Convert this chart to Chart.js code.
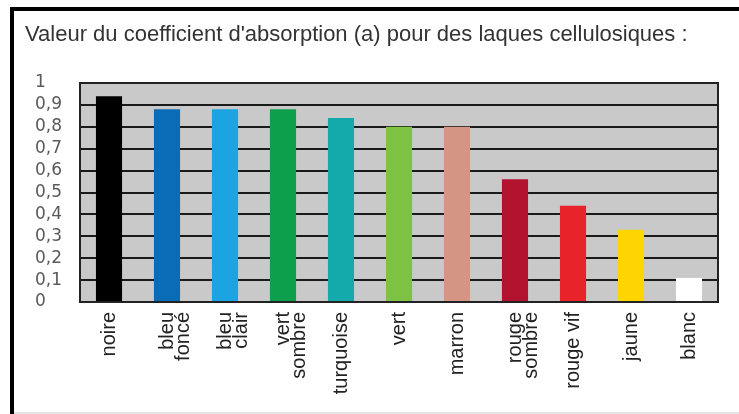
<!DOCTYPE html>
<html>
<head>
<meta charset="utf-8">
<script src="https://cdn.jsdelivr.net/npm/chart.js@4"></script>
<style>
html,body{margin:0;padding:0;background:#fff;}
#wrap{position:relative;width:739px;height:414px;}
</style>
</head>
<body>
<div id="wrap"><canvas id="c" width="739" height="414"></canvas></div>
<script>
const categories = [["noire"],["bleu","foncé"],["bleu","clair"],["vert","sombre"],["turquoise"],["vert"],["marron"],["rouge","sombre"],["rouge vif"],["jaune"],["blanc"]];
const absorption = [0.94, 0.88, 0.88, 0.88, 0.84, 0.80, 0.80, 0.56, 0.44, 0.33, 0.11];
const barColors = ["#000000","#0a6cb6","#1ba3e2","#0d9f4b","#14a9aa","#7dc243","#d49585","#b3122f","#e8232a","#ffd500","#ffffff"];
const titleText = "Valeur du coefficient d'absorption (a) pour des laques cellulosiques :";

const framePlugin = {
  id: 'frame',
  beforeDraw(chart) {
    const ctx = chart.ctx, a = chart.chartArea;
    ctx.save();
    ctx.fillStyle = '#fff';
    ctx.fillRect(0, 0, chart.width, chart.height);
    ctx.fillStyle = '#c9c9c9';
    ctx.fillRect(a.left, a.top, a.right - a.left, a.bottom - a.top);
    // outer frame
    ctx.fillStyle = '#000';
    ctx.fillRect(10, 7, chart.width - 10, 4);
    ctx.fillRect(10, 7, 4, chart.height - 7);
    ctx.fillStyle = '#e4e4e4';
    ctx.fillRect(14, chart.height - 2, chart.width - 14, 2);
    // title
    ctx.fillStyle = '#333';
    ctx.font = "22px 'Liberation Sans Narrow', 'Liberation Sans', Arial, sans-serif";
    ctx.textAlign = 'left';
    ctx.textBaseline = 'middle';
    ctx.fillText(titleText, 25, 35);
    ctx.restore();
  },
  afterDraw(chart) {
    const ctx = chart.ctx, a = chart.chartArea;
    ctx.save();
    ctx.strokeStyle = '#222';
    ctx.lineWidth = 2;
    ctx.strokeRect(a.left, a.top, a.right - a.left, a.bottom - a.top);
    ctx.restore();
  }
};

new Chart(document.getElementById('c'), {
  type: 'bar',
  data: {
    labels: categories,
    datasets: [{
      data: absorption,
      backgroundColor: barColors,
      borderWidth: 0,
      barPercentage: 0.45,
      categoryPercentage: 1.0
    }]
  },
  options: {
    responsive: false,
    animation: false,
    devicePixelRatio: 1,
    layout: { padding: { left: 35, right: 21, top: 83, bottom: 0 } },
    plugins: {
      legend: { display: false },
      tooltip: { enabled: false },
      title: { display: false }
    },
    scales: {
      x: {
        grid: { display: false, drawTicks: false },
        border: { display: false },
        ticks: {
          color: '#222',
          minRotation: 90,
          maxRotation: 90,
          autoSkip: false,
          padding: 10,
          font: { family: "'Liberation Sans Narrow', 'Liberation Sans', Arial, sans-serif", size: 20, lineHeight: 0.8 }
        },
        afterFit(s) { s.height = 112; }
      },
      y: {
        min: 0,
        max: 1,
        z: 1,
        grid: { color: '#1a1a1a', lineWidth: 2, drawTicks: false },
        border: { display: false },
        ticks: {
          stepSize: 0.1,
          autoSkip: false,
          crossAlign: 'far',
          padding: 4,
          color: '#5a5a5a',
          font: { family: "'DejaVu Sans', sans-serif", size: 17, lineHeight: 1 },
          callback(v) {
            const r = Math.round(v * 10) / 10;
            if (r === 0) return '0';
            if (r === 1) return '1';
            return r.toFixed(1).replace('.', ',');
          }
        },
        afterFit(s) { s.width = 45; }
      }
    }
  },
  plugins: [framePlugin]
});
</script>
</body>
</html>
